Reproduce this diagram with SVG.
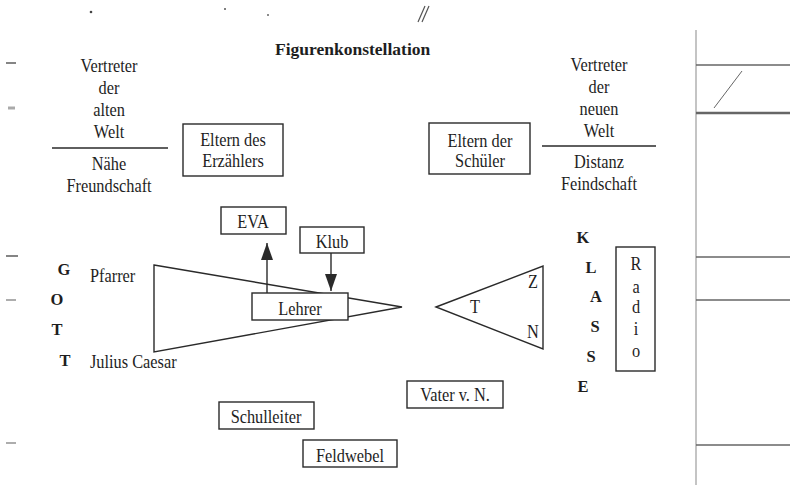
<svg xmlns="http://www.w3.org/2000/svg" width="796" height="485" viewBox="0 0 796 485">
<style>
  text { font-family: "Liberation Serif", "Times New Roman", serif; fill: #1e1e1e; }
  .t { font-size: 19px; text-anchor: middle; transform: scaleX(0.86); transform-box: fill-box; transform-origin: center; }
  .l { font-size: 19px; transform: scaleX(0.86); transform-box: fill-box; transform-origin: left; }
  .b { font-size: 16.5px; font-weight: bold; text-anchor: middle; }
  .title { font-size: 17.5px; font-weight: bold; }
  .box { fill: #fff; stroke: #2a2a2a; stroke-width: 1.4; }
  .ln { fill: none; stroke: #2a2a2a; stroke-width: 1.4; }
  .scan { fill: none; stroke: #666; stroke-width: 1.6; }
</style>
<defs>
  <marker id="ah" viewBox="0 0 17 12" refX="17" refY="6" markerWidth="17" markerHeight="12" markerUnits="userSpaceOnUse" orient="auto">
    <path d="M0,0 L17,6 L0,12 z" fill="#2a2a2a"/>
  </marker>
</defs>
<rect x="0" y="0" width="796" height="485" fill="#fff"/>

<g id="scan-marks">
  <line class="scan" x1="696" y1="30" x2="696" y2="485" style="stroke:#c4c4c4;stroke-width:2"/>
  <line class="scan" x1="696" y1="65" x2="790" y2="65"/>
  <line class="scan" x1="696" y1="113" x2="790" y2="113" style="stroke-width:2.4"/>
  <line class="scan" x1="742" y1="71" x2="714" y2="108" style="stroke-width:1"/>
  <line class="scan" x1="696" y1="257" x2="790" y2="257"/>
  <line class="scan" x1="696" y1="300" x2="790" y2="300"/>
  <line class="scan" x1="696" y1="445" x2="790" y2="445"/>
  <line class="scan" x1="6" y1="63" x2="16" y2="63"/>
  <line class="scan" x1="8" y1="108" x2="15" y2="108" style="stroke:#aaa;stroke-width:3"/>
  <line class="scan" x1="6" y1="256" x2="18" y2="256"/>
  <line class="scan" x1="6" y1="300" x2="16" y2="300" style="stroke:#999"/>
  <line class="scan" x1="6" y1="443" x2="16" y2="443" style="stroke:#999"/>
  <path class="scan" d="M425,6 L418,22 M429,6 L422,22" style="stroke:#555;stroke-width:1.2"/>
  <circle cx="91" cy="12" r="1.3" fill="#444"/>
  <circle cx="225" cy="9" r="1" fill="#555"/>
  <circle cx="268" cy="15" r="1" fill="#666"/>
</g>

<g id="title"><text class="title" x="275" y="55">Figurenkonstellation</text></g>

<g id="alte-welt">
  <text class="t" x="109" y="72">Vertreter</text>
  <text class="t" x="109" y="94">der</text>
  <text class="t" x="109" y="116">alten</text>
  <text class="t" x="109" y="138">Welt</text>
  <line class="ln" x1="52" y1="148" x2="168" y2="148"/>
  <text class="t" x="109" y="170">Nähe</text>
  <text class="t" x="109" y="192">Freundschaft</text>
</g>

<g id="neue-welt">
  <text class="t" x="599" y="71">Vertreter</text>
  <text class="t" x="599" y="93">der</text>
  <text class="t" x="599" y="115">neuen</text>
  <text class="t" x="599" y="137">Welt</text>
  <line class="ln" x1="542" y1="146" x2="656" y2="146"/>
  <text class="t" x="599" y="168">Distanz</text>
  <text class="t" x="599" y="190">Feindschaft</text>
</g>

<g id="eltern-erzaehler">
  <rect class="box" x="183" y="124" width="100" height="52"/>
  <text class="t" x="233" y="146">Eltern des</text>
  <text class="t" x="233" y="167">Erzählers</text>
</g>

<g id="eltern-schueler">
  <rect class="box" x="429" y="123" width="101" height="51"/>
  <text class="t" x="480" y="147">Eltern der</text>
  <text class="t" x="480" y="167">Schüler</text>
</g>

<g id="gott">
  <text class="b" x="64" y="275">G</text>
  <text class="b" x="57" y="305">O</text>
  <text class="b" x="57" y="335">T</text>
  <text class="b" x="65" y="366">T</text>
</g>

<g id="pfarrer"><text class="l" x="90" y="282">Pfarrer</text></g>
<g id="caesar"><text class="l" x="90" y="368">Julius Caesar</text></g>

<g id="triangle-left">
  <path class="ln" d="M154,265 L402,307 L154,352 Z"/>
</g>

<g id="triangle-right">
  <path class="ln" d="M436,307 L543,266 L543,349 Z"/>
  <text class="t" x="533" y="288">Z</text>
  <text class="t" x="475" y="313">T</text>
  <text class="t" x="533" y="338">N</text>
</g>

<g id="eva">
  <rect class="box" x="221" y="207" width="65" height="27"/>
  <text class="t" x="253" y="228">EVA</text>
</g>

<g id="klub">
  <rect class="box" x="300" y="227" width="64" height="26"/>
  <text class="t" x="332" y="248">Klub</text>
</g>

<g id="connectors">
  <line class="ln" x1="267" y1="293" x2="267" y2="243" marker-end="url(#ah)"/>
  <line class="ln" x1="331" y1="253" x2="331" y2="291" marker-end="url(#ah)"/>
</g>

<g id="lehrer">
  <rect class="box" x="252" y="293" width="96" height="27"/>
  <text class="t" x="300" y="315">Lehrer</text>
</g>

<g id="klasse">
  <text class="b" x="583" y="243">K</text>
  <text class="b" x="591" y="273">L</text>
  <text class="b" x="596" y="302">A</text>
  <text class="b" x="595" y="332">S</text>
  <text class="b" x="591" y="362">S</text>
  <text class="b" x="583" y="392">E</text>
</g>

<g id="radio">
  <rect class="box" x="616" y="247" width="39" height="124"/>
  <text class="t" x="636" y="270">R</text>
  <text class="t" x="636" y="293">a</text>
  <text class="t" x="636" y="313">d</text>
  <text class="t" x="636" y="335">i</text>
  <text class="t" x="636" y="357">o</text>
</g>

<g id="vater">
  <rect class="box" x="407" y="381" width="96" height="27"/>
  <text class="t" x="455" y="401">Vater v. N.</text>
</g>

<g id="schulleiter">
  <rect class="box" x="219" y="402" width="95" height="27"/>
  <text class="t" x="266" y="423">Schulleiter</text>
</g>

<g id="feldwebel">
  <rect class="box" x="303" y="440" width="94" height="27"/>
  <text class="t" x="350" y="462">Feldwebel</text>
</g>
</svg>
